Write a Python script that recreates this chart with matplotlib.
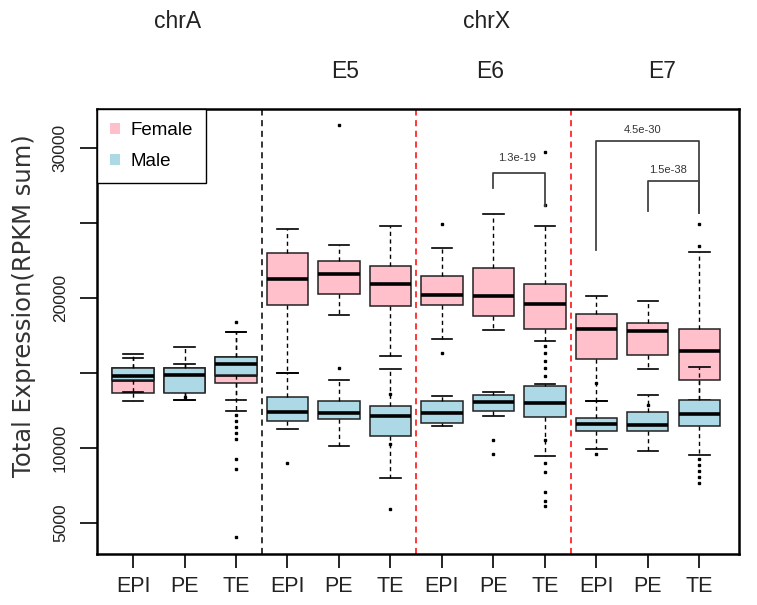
import matplotlib
matplotlib.use("Agg")
import matplotlib.pyplot as plt
from matplotlib.patches import Patch

# ---------------- data ----------------
positions = list(range(1, 13))
tick_labels = ["EPI", "PE", "TE"] * 4

# whislo, q1, med, q3, whishi  -- female (pink)
f_lo  = [13133, 13180, 13220, 15020, 18867, 16133, 17287, 17847, 17153, 13133, 15247, 13200]
f_q1  = [13687, 13700, 14353, 19513, 20267, 19487, 19513, 18780, 17953, 15953, 16180, 14533]
f_med = [14533, 14800, 14867, 21267, 21620, 20953, 20200, 20153, 19580, 17933, 17780, 16447]
f_q3  = [15311, 15300, 16047, 23000, 22487, 22153, 21467, 21980, 20953, 18913, 18353, 17953]
f_hi  = [16247, 16753, 17713, 24620, 23553, 24820, 23333, 25620, 24780, 20133, 19820, 23067]
f_out = [[], [], [], [], [31533], [13580, 10267], [24933, 16313], [],
         [29753, 26200, 16800, 16300, 15800, 15300, 14800],
         [], [12867], [24933, 23467]]

# male (lightblue)
m_lo  = [13753, 13180, 12467, 11267, 10153, 7980, 11467, 12160, 9487, 9953, 9800, 9500]
m_q1  = [14533, 13647, 14867, 11800, 11913, 10780, 11647, 12447, 12047, 11133, 11113, 11447]
m_med = [14780, 14867, 15580, 12420, 12333, 12160, 12353, 13067, 13020, 11620, 11533, 12267]
m_q3  = [15311, 15353, 16047, 13420, 13113, 12780, 13153, 13553, 14133, 12020, 12420, 13180]
m_hi  = [15980, 15600, 17713, 14980, 14533, 15247, 13447, 13713, 14250, 13133, 13533, 15380]
m_out = [[], [13420], [18420, 12200, 11800, 11400, 11000, 10600, 9247, 8600, 4047],
         [8980], [15333], [5933], [], [10533, 9580],
         [10530, 8980, 8380, 7087, 6450, 6100],
         [14313, 9600], [], [9250, 8850, 8450, 8050, 7650]]

# significance brackets: (x_left, x_right, y_top, y_left_end, y_right_end, label, label_x, label_y)
brackets = [(8, 9, 28313, 27313, 26133, "1.3e-19", 8.45, 29333),
            (10, 12, 30487, 23200, 25647, "4.5e-30", 10.9, 31200),
            (11, 12, 27827, 25820, 25647, "1.5e-38", 11.4, 28533)]

separators = [(3.5, "black"), (6.5, "red"), (9.5, "red")]

sans = ["Liberation Sans", "DejaVu Sans"]


def make_stats(lo, q1, med, q3, hi, out):
    return [dict(whislo=lo[i], q1=q1[i], med=med[i], q3=q3[i], whishi=hi[i], fliers=out[i])
            for i in range(len(lo))]


fig = plt.figure(figsize=(7.57, 6.05), dpi=100)
ax = fig.add_axes([97 / 757, 1 - 554 / 605, (739 - 97) / 757, (554 - 109) / 605])

common = dict(positions=positions, widths=0.8, capwidths=0.4, patch_artist=True,
              whiskerprops=dict(color="black", lw=1, ls=(0, (3, 2.5))),
              capprops=dict(color="black", lw=1.2),
              medianprops=dict(color="black", lw=2.6, solid_capstyle="butt"),
              flierprops=dict(marker="s", markersize=1.7, markerfacecolor="black",
                              markeredgecolor="black", linestyle="none"))

ax.bxp(make_stats(f_lo, f_q1, f_med, f_q3, f_hi, f_out),
       boxprops=dict(facecolor="pink", edgecolor="#222222", lw=1.1), zorder=2, **common)
ax.bxp(make_stats(m_lo, m_q1, m_med, m_q3, m_hi, m_out),
       boxprops=dict(facecolor="lightblue", edgecolor="#222222", lw=1.1), zorder=3, **common)

for x, c in separators:
    ax.axvline(x, color=c, lw=1.1, ls=(0, (4, 3)), zorder=1)

for x0, x1, yt, yl, yr, lab, lx, ly in brackets:
    ax.plot([x0, x0, x1, x1], [yl, yt, yt, yr], color="#444444", lw=1.3, zorder=4)
    ax.text(lx, ly, lab, ha="center", va="center", fontsize=8, color="#333333",
            family=sans)

ax.set_xlim(0.3, 12.77)
ax.set_ylim(2933, 32600)

ax.set_xticks(positions)
ax.set_xticklabels(tick_labels, family=sans, fontsize=15.5, color="#222222")
yt = [5000, 10000, 15000, 20000, 25000, 30000]
ax.set_yticks(yt)
ax.set_yticklabels(["5000", "10000", "", "20000", "", "30000"], family=sans,
                   fontsize=12.5, rotation=90, va="center", color="#222222")
ax.tick_params(axis="x", length=10, width=1.2, pad=6)
ax.tick_params(axis="y", length=12, width=1.2, pad=9)
for s in ax.spines.values():
    s.set_linewidth(1.8)

handles = [Patch(facecolor="pink", edgecolor="none", label="Female"),
           Patch(facecolor="lightblue", edgecolor="none", label="Male")]
leg = ax.legend(handles=handles, loc="upper left", borderaxespad=0, fancybox=False,
                edgecolor="black", framealpha=1, handlelength=0.5, handleheight=0.5,
                handletextpad=0.6, borderpad=0.7, labelspacing=0.75,
                prop=dict(family=sans, size=13.5))
leg.get_frame().set_linewidth(1.0)
leg.set_zorder(5)

fig.text(24 / 757, 1 - 306 / 605, "Total Expression(RPKM sum)", rotation=90,
         ha="center", va="center", fontsize=17.5, color="#333333", family="DejaVu Sans")

for lab, x, y in [("chrA", 178, 21), ("chrX", 487, 21), ("E5", 345, 72),
                  ("E6", 490, 72), ("E7", 662, 72)]:
    fig.text(x / 757, 1 - y / 605, lab, ha="center", va="center", fontsize=16.5,
             color="#222222", family=sans)

fig.savefig("out.png", dpi=100)
